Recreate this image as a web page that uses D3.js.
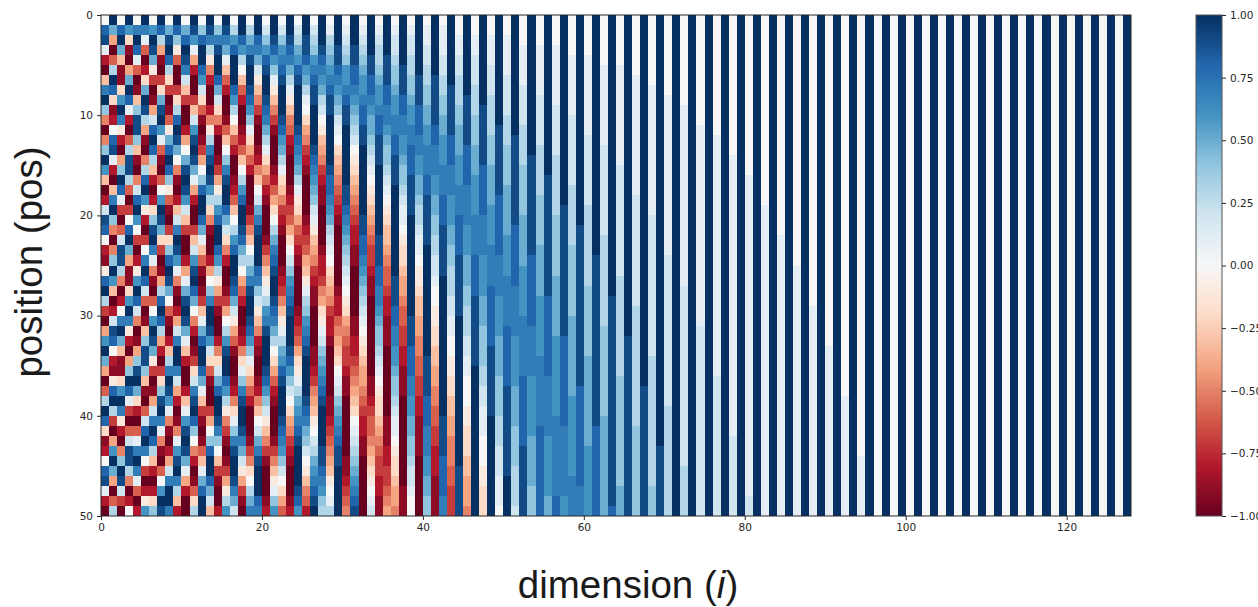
<!DOCTYPE html>
<html>
<head>
<meta charset="utf-8">
<script src="https://cdn.jsdelivr.net/npm/d3@7"></script>
<style>
  html, body { margin: 0; padding: 0; background: #fff; overflow: hidden; }
  svg { display: block; }
</style>
</head>
<body>
<div id="chart"></div>
<script>
// Cell values, one string per dimension, top row first.
// Letters are tenths: a = -1.0, k = 0.0, u = +1.0. Spaces only help reading.
const ZERO = "kkkkk kkkkk kkkkk kkkkk kkkkk kkkkk kkkkk kkkkk kkkkk kkkkk";
const ONE = "uuuuu uuuuu uuuuu uuuuu uuuuu uuuuu uuuuu uuuuu uuuuu uuuuu";

const columnCodes = [
  "kstlc ahruo fafou qhacm tskcb jsund agqup gaenu sibck stlca",
  "upgae nusib ckstl cahru ofafo uqhac mtskc bjsun dagqu pgaen",
  "ksuph bbiqu rjcag ousld aemtt nfack ruphb biqur jcafo utmda",
  "uqiba gpusl caent tnead ksupg bbiqu rjcag ousld aemtt nfack",
  "krusl eabho ttohb afmsu qkdac jqusm fabgo tupic aelru rleac",
  "urlea ciput ngbaf nsuqj cadkr usmea bhott ohbae msurk dacjq",
  "kqutp jdabg msusn hcaci oturl fbaek qutpj dabgm rusnh cacio",
  "usngb adipt uqleb aekqu tpida bgnsu sngca diotu rlfba ekqut",
  "kptus nidab ejpsu sojeb adios utpke bachn rutql fbacg mruur",
  "usoje aadin sutpk fbach mrutq lfbac gmruu rmgca bflqt urnhc",
  "kpsut rmhda acgkp tutqm hdaac glptu tplhc aachl qtutp lgcaa",
  "utqlg caadh mqtut plgca adhmq tuspk fcabd imrtu sokfc abein",
  "kosuu sqmie babdg kosuu splhe babdh lpsuu splhd babeh lpsuu",
  "utrnj fcaac fjnrt utqni fbaac gkoru utqmi ebaad gkosu uspmh",
  "kortu uspmi fcaab dgjnq suusq njgdb aacfi mpsuu trokh dbaac",
  "utrpl hecaa behko rtuus pmifc aabdg knqtu usqnj fdbab dgjnq",
  "knqsu uusqn kheca abceh knqsu utspm jgeba abcfi lortu utrpm",
  "uusqn kheca abceh knqsu utspn kgeca abcfi lortu utrpm jgdba",
  "knprt uutsq olige caaab dfhkn prtuu tsqol igeca aabdf iknpr",
  "uusrp mjhfd baabc fhkmp rtuuu sromj hfcba abcfh kmprt uuusr",
  "kmoqs tuuts rpnli gecba aabdf hjlnq rtuuu tsqom jhfdb aaabc",
  "uutsq oljhf dbaaa bcegi knprs tuuts rpnki gecba aabdf hjloq",
  "kmoqr stuuu tsqpn lihfd cbaaa bcdfh jlnpq stuuu tsrqo mkige",
  "uutsr pnljh fecba aabcd egikm oqrst uuuts qomki gfdcb aaabc",
  "kmnpq stuuu utsrq pnlji gedcb aaaab cdegi jlnpq rstuu uutsq",
  "uutts qpnlk igfdc baaaa bcdeg hjlno qrstu uuuts rpomk jhfec",
  "kmnoq rsttu uuuts rqpom ljhgf dcbba aaabb cdfgh jkmnp qrstu",
  "uuuts rqpnm kjhgf dcbba aaabc cdfgi jlmop qrstu uuutt srqon",
  "klnop qrstt uuuuu tssrq pnmlk ihgfd ccbaa aaabb cdefg hjkln",
  "uuutt srqpo mlkih gfedc baaaa aabcc efghi klmop qrstt uuuuu",
  "klmno qqrst tuuuu uutts rqpon mlkji gfedd cbbaa aaaab bcdef",
  "uuutt ssrqp onmkj ihgfe dccbb aaaaa bbccd efghi klmno pqrst",
  "klmno pqqrs sttuu uuuuu ttssr qponm lkjih ggfed ccbba aaaaa",
  "uuuut tssrq pponm lkjih gfedd cbbaa aaaaa abbcd eefgh ijklm",
  "klmnn opqqr ssttt uuuuu uuttt ssrrq poonm lkjii hgfed dccbb",
  "uuuut ttssr rqpoo nmlkj ihhgf eedcc bbbaa aaaaa bbbcc ddefg",
  "klmmn oopqq rrsst ttuuu uuuuu uttts srrqq poonm llkji ihggf",
  "uuuuu tttss rrqqp oonml lkjii hggfe eddcc bbbaa aaaaa aabbb",
  "klmmn noopq qrrss stttt uuuuu uuuuu tttss srrqq ppoon mmlkk",
  "uuuuu uttts ssrrq qppon nmllk jjihh ggffe eddcc bbbba aaaaa",
  "kllmm nnoop pqqrr rsstt tttuu uuuuu uuuut tttss srrrq qppoo",
  "uuuuu utttt tssrr rqqpp oonnm mlkkj jiihh ggffe eddcc cbbbb",
  "klllm mnnoo ppqqq rrrss stttt tuuuu uuuuu uuuuu tttts sssrr",
  "uuuuu uuttt ttsss rrrqq qppoo nnnmm llkkj jiihh ggfff eeddd",
  "kkllm mnnno opppq qqrrr sssst ttttt uuuuu uuuuu uuuuu ttttt",
  "uuuuu uuutt tttss ssrrr rqqqp ppoon nnmml lkkkj jiiih hgggf",
  "kkllm mmnnn ooopp pqqqq rrrrs ssstt ttttt uuuuu uuuuu uuuuu",
  "uuuuu uuuut ttttt sssss rrrrq qqqpp poooo nnmml llkkk jjiii",
  "kklll mmmnn nnooo ppppq qqqrr rrsss ssstt ttttt uuuuu uuuuu",
  "uuuuu uuuuu utttt tttss ssssr rrrqq qqppp poooo nnnmm mlllk",
  "kklll lmmmm nnnoo ooppp ppqqq qrrrr rssss ssttt ttttt tuuuu",
  "uuuuu uuuuu uuttt ttttt tssss ssrrr rrqqq qqppp poooo nnnnm",
  "kkkll llmmm mnnnn ooooo ppppp qqqqq rrrrr rssss ssstt ttttt",
  "uuuuu uuuuu uuuut ttttt tttts sssss srrrr rqqqq qqppp ppooo",
  "kkkll lllmm mmmnn nnnoo ooopp pppqq qqqqr rrrrr rssss sssss",
  "uuuuu uuuuu uuuuu utttt ttttt tttss sssss srrrr rrqqq qqqpp",
  "kkkll llllm mmmmn nnnnn ooooo opppp ppqqq qqqqq rrrrr rrrss",
  "uuuuu uuuuu uuuuu uuuut ttttt ttttt ttsss sssss srrrr rrrqq",
  "kkkkl lllll mmmmm mmnnn nnnoo ooooo ppppp pppqq qqqqq qrrrr",
  "uuuuu uuuuu uuuuu uuuuu utttt ttttt ttttt ttsss sssss ssrrr",
  "kkkkl lllll llmmm mmmmn nnnnn nnooo oooop ppppp pppqq qqqqq",
  "uuuuu uuuuu uuuuu uuuuu uuuut ttttt ttttt ttttt tssss sssss",
  "kkkkk lllll lllmm mmmmm mmnnn nnnnn noooo ooooo ppppp ppppp",
  "uuuuu uuuuu uuuuu uuuuu uuuuu uuutt ttttt ttttt ttttt tttts",
  "kkkkk lllll lllll mmmmm mmmmm mnnnn nnnnn noooo ooooo ooppp",
  "uuuuu uuuuu uuuuu uuuuu uuuuu uuuuu uuttt ttttt ttttt ttttt",
  "kkkkk kllll lllll lllmm mmmmm mmmmn nnnnn nnnnn noooo ooooo",
  "uuuuu uuuuu uuuuu uuuuu uuuuu uuuuu uuuuu uuttt ttttt ttttt",
  "kkkkk kklll lllll lllll mmmmm mmmmm mmmmn nnnnn nnnnn nnooo",
  "uuuuu uuuuu uuuuu uuuuu uuuuu uuuuu uuuuu uuuuu uuutt ttttt",
  "kkkkk kkkll lllll lllll llllm mmmmm mmmmm mmmmn nnnnn nnnnn",
  ONE,
  "kkkkk kkkkl lllll lllll lllll llmmm mmmmm mmmmm mmmmm nnnnn",
  ONE,
  "kkkkk kkkkk kllll lllll lllll lllll lmmmm mmmmm mmmmm mmmmm",
  ONE,
  "kkkkk kkkkk kklll lllll lllll lllll lllll lmmmm mmmmm mmmmm",
  ONE,
  "kkkkk kkkkk kkkkl lllll lllll lllll lllll lllll llmmm mmmmm",
  ONE,
  "kkkkk kkkkk kkkkk kllll lllll lllll lllll lllll lllll lllmm",
  ONE,
  "kkkkk kkkkk kkkkk kkkkl lllll lllll lllll lllll lllll lllll",
  ONE,
  "kkkkk kkkkk kkkkk kkkkk kklll lllll lllll lllll lllll lllll",
  ONE,
  "kkkkk kkkkk kkkkk kkkkk kkkkk lllll lllll lllll lllll lllll",
  ONE,
  "kkkkk kkkkk kkkkk kkkkk kkkkk kkkkl lllll lllll lllll lllll",
  ONE,
  "kkkkk kkkkk kkkkk kkkkk kkkkk kkkkk kkkll lllll lllll lllll",
  ONE,
  "kkkkk kkkkk kkkkk kkkkk kkkkk kkkkk kkkkk kkkll lllll lllll",
  ONE,
  "kkkkk kkkkk kkkkk kkkkk kkkkk kkkkk kkkkk kkkkk kkkkl lllll",
  ONE,
  ZERO, ONE, ZERO, ONE, ZERO, ONE, ZERO, ONE,
  ZERO, ONE, ZERO, ONE, ZERO, ONE, ZERO, ONE,
  ZERO, ONE, ZERO, ONE, ZERO, ONE, ZERO, ONE,
  ZERO, ONE, ZERO, ONE, ZERO, ONE, ZERO, ONE
];

const xTicks = [0, 20, 40, 60, 80, 100, 120];
const yTicks = [0, 10, 20, 30, 40, 50];
const barTicks = [-1, -0.75, -0.5, -0.25, 0, 0.25, 0.5, 0.75, 1];
// RdBu, bottom to top
const rdBu = ["#67001f", "#b2182b", "#d6604d", "#f4a582", "#fddbc7", "#f7f7f7", "#d1e5f0", "#92c5de", "#4393c3", "#2166ac", "#053061"];

const width = 1258;
const height = 607;
const plot = { left: 101, right: 1131, top: 15, bottom: 516 };
const bar = { left: 1196, right: 1222 };
const inkColor = "#262626";

const cells = [];
columnCodes.forEach((code, dim) => {
  code.replace(/ /g, "").split("").forEach((letter, pos) => {
    cells.push({ dim, pos, value: (letter.charCodeAt(0) - 97 - 10) / 10 });
  });
});

const x = d3.scaleLinear().domain([0, 128]).range([plot.left, plot.right]);
const y = d3.scaleLinear().domain([0, 50]).range([plot.top, plot.bottom]);
const color = d3.scaleLinear().domain(d3.range(11).map(i => -1 + i * 0.2)).range(rdBu);
const barY = d3.scaleLinear().domain([-1, 1]).range([plot.bottom, plot.top]);

const svg = d3.select("#chart").append("svg")
  .attr("width", width)
  .attr("height", height)
  .attr("viewBox", [0, 0, width, height]);

const defs = svg.append("defs");

defs.append("clipPath")
  .attr("id", "plotClip")
  .append("rect")
  .attr("x", plot.left)
  .attr("y", plot.top)
  .attr("width", plot.right - plot.left)
  .attr("height", plot.bottom - plot.top);

// Heatmap, slightly softened because the reference is an upscaled screenshot
svg.append("g")
  .attr("clip-path", "url(#plotClip)")
  .append("g")
  .style("filter", "blur(0.6px)")
  .attr("shape-rendering", "crispEdges")
  .selectAll("rect")
  .data(cells)
  .join("rect")
  .attr("x", d => x(d.dim))
  .attr("y", d => y(d.pos))
  .attr("width", d => x(d.dim + 1) - x(d.dim) + 0.5)
  .attr("height", d => y(d.pos + 1) - y(d.pos) + 0.5)
  .attr("fill", d => color(d.value));

svg.append("rect")
  .attr("x", plot.left)
  .attr("y", plot.top)
  .attr("width", plot.right - plot.left)
  .attr("height", plot.bottom - plot.top)
  .attr("fill", "none")
  .attr("stroke", inkColor);

// Axes
function styleAxis(g) {
  g.selectAll(".domain").remove();
  g.selectAll("line").attr("stroke", inkColor);
  g.selectAll("text")
    .attr("fill", inkColor)
    .attr("font-family", "DejaVu Sans")
    .attr("font-size", 10.5);
}

svg.append("g")
  .attr("transform", `translate(0,${plot.bottom})`)
  .call(d3.axisBottom(x).tickValues(xTicks).tickSize(4).tickPadding(4))
  .call(styleAxis);

svg.append("g")
  .attr("transform", `translate(${plot.left},0)`)
  .call(d3.axisLeft(y).tickValues(yTicks).tickSize(4).tickPadding(4))
  .call(styleAxis);

// Colour bar
const gradient = defs.append("linearGradient")
  .attr("id", "barFill")
  .attr("x1", 0).attr("x2", 0)
  .attr("y1", 1).attr("y2", 0);
gradient.selectAll("stop")
  .data(rdBu)
  .join("stop")
  .attr("offset", (d, i) => i / (rdBu.length - 1))
  .attr("stop-color", d => d);

svg.append("rect")
  .attr("x", bar.left)
  .attr("y", plot.top)
  .attr("width", bar.right - bar.left)
  .attr("height", plot.bottom - plot.top)
  .attr("fill", "url(#barFill)")
  .attr("stroke", "#555");

svg.append("g")
  .attr("transform", `translate(${bar.right},0)`)
  .call(d3.axisRight(barY).tickValues(barTicks).tickSize(4).tickPadding(4).tickFormat(d3.format(".2f")))
  .call(styleAxis);

// Axis titles
const xTitle = svg.append("text")
  .attr("x", 628)
  .attr("y", 598)
  .attr("text-anchor", "middle")
  .attr("font-family", "Liberation Sans")
  .attr("font-size", 38.5)
  .attr("fill", "#1a1a1a");
xTitle.append("tspan").text("dimension (");
xTitle.append("tspan").attr("font-style", "italic").text("i");
xTitle.append("tspan").text(")");

svg.append("text")
  .attr("transform", "translate(42,262) rotate(-90)")
  .attr("text-anchor", "middle")
  .attr("font-family", "Liberation Sans")
  .attr("font-size", 38.5)
  .attr("fill", "#1a1a1a")
  .text("position (pos)");
</script>
</body>
</html>
